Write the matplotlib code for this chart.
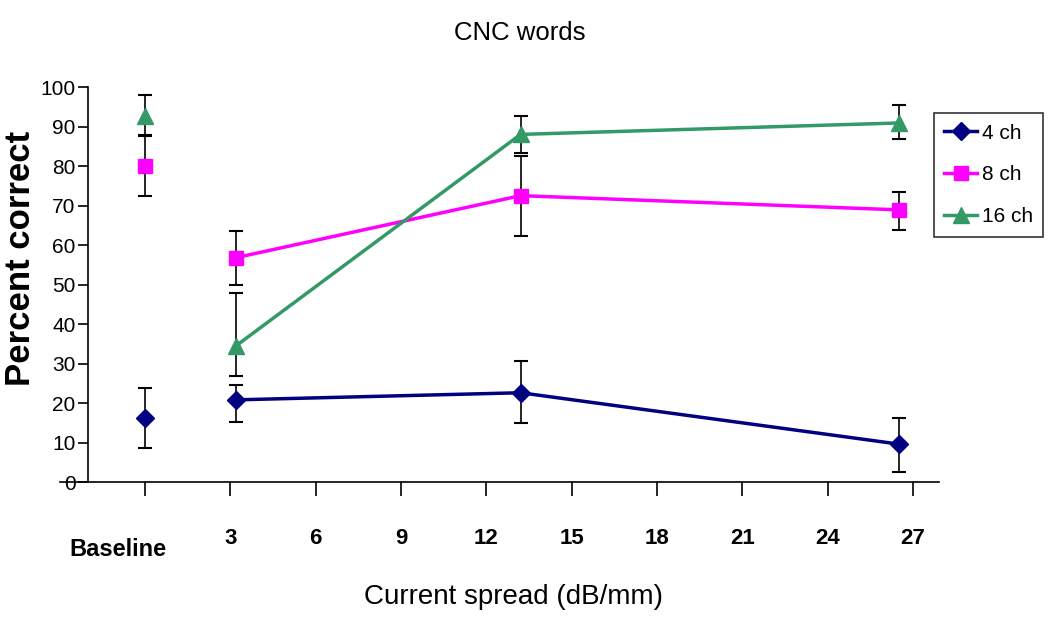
import matplotlib
matplotlib.use("Agg")
import matplotlib.pyplot as plt
import numpy as np

plt.rcParams['font.family'] = ['Liberation Sans', 'DejaVu Sans']

# spread positions (baseline plotted at 0)
x_pos = [0, 3.2, 13.2, 26.5]

ch4 = [16.1, 20.8, 22.6, 9.6]
ch4_lo = [8.7, 15.2, 14.9, 2.6]
ch4_hi = [23.9, 24.5, 30.7, 16.1]

ch8 = [79.9, 56.8, 72.5, 68.9]
ch8_lo = [72.3, 49.9, 62.2, 63.8]
ch8_hi = [87.9, 63.6, 82.6, 73.4]

ch16 = [92.6, 34.5, 88.0, 90.9]
ch16_lo = [87.6, 26.9, 83.3, 86.8]
ch16_hi = [98.1, 47.8, 92.6, 95.5]

tick_vals = [0, 3, 6, 9, 12, 15, 18, 21, 24, 27]
tick_labels = ['', '3', '6', '9', '12', '15', '18', '21', '24', '27']

series = [
    ("4 ch", ch4, ch4_lo, ch4_hi, "#000080", "D", 9),
    ("8 ch", ch8, ch8_lo, ch8_hi, "#FF00FF", "s", 10),
    ("16 ch", ch16, ch16_lo, ch16_hi, "#339966", "^", 11),
]

fig = plt.figure(figsize=(10.5, 6.26), dpi=100)
ax = fig.add_axes([0.084, 0.230, 0.810, 0.631])

handles = []
for name, y, lo, hi, col, mk, ms in series:
    y = np.array(y)
    err = [y - np.array(lo), np.array(hi) - y]
    ax.errorbar(x_pos, y, yerr=err, fmt="none", ecolor="black", elinewidth=1.2,
                capsize=5, capthick=1.5, zorder=2)
    # baseline is a separate point, not joined to the curve
    ax.plot(x_pos[:1], y[:1], color=col, marker=mk, ms=ms, lw=0, zorder=4)
    h, = ax.plot(x_pos[1:], y[1:], color=col, marker=mk, ms=ms, lw=2.5, zorder=4, label=name)
    handles.append(h)

ax.set_xlim(-2.0, 27.9)
ax.set_ylim(0, 100)
ax.set_yticks(range(0, 101, 10))
ax.tick_params(axis='y', labelsize=15, direction='out', length=7, width=1.2, pad=2)

ax.xaxis.remove_overlapping_locs = False
ax.set_xticks(tick_vals)
ax.set_xticklabels(tick_labels, fontsize=16, fontweight='bold')
# "Baseline" sits a bit left of and below the numeric labels
ax.set_xticks([-0.95], minor=True)
ax.set_xticklabels(['Baseline'], minor=True, fontsize=17, fontweight='bold')
ax.tick_params(axis='x', which='major', direction='out', length=10, width=1.2, pad=23)
ax.tick_params(axis='x', which='minor', length=0, pad=40)

for s in ['top', 'right']:
    ax.spines[s].set_visible(False)
for s in ['left', 'bottom']:
    ax.spines[s].set_linewidth(1.2)
ax.spines['bottom'].set_bounds(-3.0, 27.9)

ax.set_xlabel("Current spread (dB/mm)", fontsize=20, labelpad=17)
ax.set_ylabel("Percent correct", fontsize=25, fontweight='bold')
ax.yaxis.set_label_coords(-0.060, 0.567)
fig.suptitle("CNC words", fontsize=18.5, x=0.495, y=0.967)

leg = ax.legend(handles=handles, loc='upper left', bbox_to_anchor=(0.994, 0.934),
                fontsize=15, frameon=True, fancybox=False, edgecolor='black',
                handlelength=1.6, handletextpad=0.2, borderpad=0.5, labelspacing=1.1,
                borderaxespad=0)
leg.get_frame().set_linewidth(1.2)

fig.savefig("out.png", dpi=100)
